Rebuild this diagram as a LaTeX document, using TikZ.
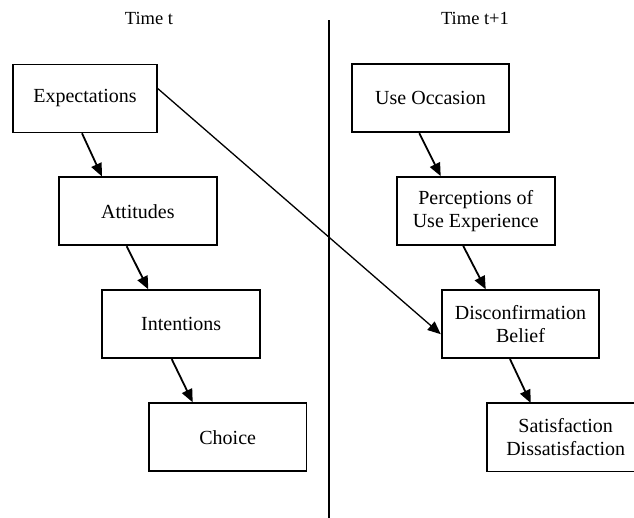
\documentclass[tikz,border=0pt]{standalone}
\usepackage{fontspec}
\setmainfont{Liberation Serif}
\usetikzlibrary{arrows.meta,calc}

\begin{document}
\begin{tikzpicture}[x=1pt,y=-1pt,
  stagetext/.style={minimum width=157.7pt,minimum height=68pt,
    inner sep=0pt,align=center,font=\fontsize{20}{23.3}\selectfont},
  stage/.style={stagetext,draw,line width=1.8pt},
  frame/.style={line width=1.8pt},
  flow/.style={line width=1.8pt,-{Triangle[length=13pt,width=11pt]}},
  link/.style={line width=1.3pt,-{Triangle[length=13pt,width=11pt]}},
  heading/.style={font=\fontsize{18.5}{22}\selectfont}]
  \useasboundingbox (0,0) rectangle (634,517);
  \clip (0,0) rectangle (634,517);

  % period headings and divider
  \node[heading] (tnow) at (149,18) {Time t};
  \node[heading] (tnext) at (475,18) {Time t+1};
  \coordinate (divtop) at (329,20);
  \coordinate (divbot) at (329,520);
  \draw[line width=1.3pt] (divtop) -- (divbot);

  % time t chain
  \node[stage,minimum width=143.4pt] (exp) at (85,98.4) {Expectations};
  \node[stage] (att) at (137.9,211.3) {Attitudes};
  \node[stage] (int) at (181.2,324.2) {Intentions};
  \node[stage] (cho) at (227.7,437.2) {Choice};

  % time t+1 chain
  \node[stage] (use) at (430.5,98.3) {Use Occasion};
  \node[stage] (per) at (475.8,211) {Perceptions of\\Use Experience};
  \node[stage] (dis) at (520.5,324.2) {Disconfirmation\\Belief};
  \node[stagetext] (sat) at (565.7,437.2) {Satisfaction\\Dissatisfaction};
  % its frame runs off the right margin, so only three sides show
  \draw[frame] ($(sat.north east)+(30,0)$) -- (sat.north west)
    -- (sat.south west) -- ($(sat.south east)+(30,0)$);

  % arrows
  \draw[flow] ($(exp.south)+(-3,0)$) -- ($(att.north)+(-36,0)$);
  \draw[flow] ($(att.south)+(-11.2,0)$) -- ($(int.north)+(-32.9,0)$);
  \draw[flow] ($(int.south)+(-9.5,0)$) -- ($(cho.north)+(-35,0)$);
  \draw[flow] ($(use.south)+(-11.2,0)$) -- ($(per.north)+(-35.1,0)$);
  \draw[flow] ($(per.south)+(-12.6,0)$) -- ($(dis.north)+(-34.8,0)$);
  \draw[flow] ($(dis.south)+(-10.5,0)$) -- ($(sat.north)+(-35,0)$);
  \draw[link] ($(exp.east)+(0,-10)$) -- ($(dis.west)+(0,10)$);
\end{tikzpicture}
\end{document}
